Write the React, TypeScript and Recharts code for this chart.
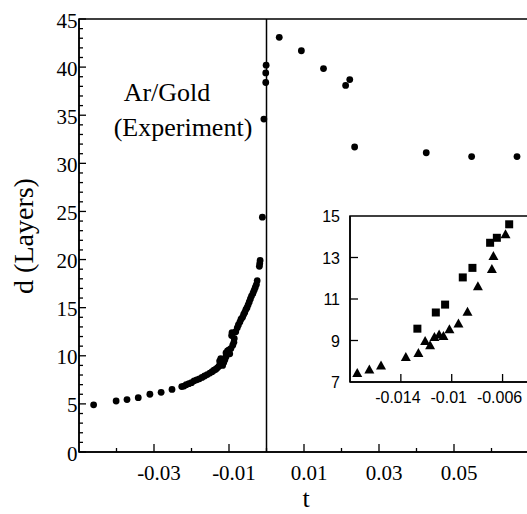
import React from 'react';
import { ScatterChart, Scatter, XAxis, YAxis, ReferenceLine, ReferenceArea } from 'recharts';

// Main plot: experimental Ar/Gold film thickness d (layers) vs reduced temperature t
const mainLeft: [number, number][] = [
  [-0.0461, 4.9], [-0.0401, 5.3], [-0.0372, 5.45], [-0.0342, 5.65], [-0.0311, 6.0],
  [-0.0281, 6.2], [-0.0252, 6.5], [-0.0226, 6.8], [-0.022, 6.85], [-0.0214, 7.0],
  [-0.0207, 7.1], [-0.02, 7.2], [-0.0193, 7.4], [-0.0186, 7.5], [-0.0179, 7.6],
  [-0.0172, 7.75], [-0.0165, 7.9], [-0.0158, 8.05], [-0.0151, 8.2], [-0.0145, 8.35],
  [-0.014, 8.5], [-0.0135, 8.6], [-0.0131, 8.75], [-0.0127, 8.9], [-0.0124, 9.1],
  [-0.0121, 9.3], [-0.0125, 9.45], [-0.0122, 9.7], [-0.0117, 9.0], [-0.0114, 9.3],
  [-0.0111, 9.6], [-0.0108, 9.9], [-0.0108, 10.3], [-0.0104, 10.5], [-0.01, 10.6],
  [-0.0095, 10.75], [-0.0098, 10.2], [-0.009, 11.1], [-0.0087, 11.4], [-0.0086, 11.8],
  [-0.0093, 12.1], [-0.0092, 12.4], [-0.0082, 12.5], [-0.0078, 12.9], [-0.0075, 13.2],
  [-0.0071, 13.5], [-0.0068, 13.8], [-0.0064, 14.0], [-0.0061, 14.3], [-0.0058, 14.5],
  [-0.0055, 14.8], [-0.0052, 15.0], [-0.0049, 15.3], [-0.0046, 15.6], [-0.0043, 15.9],
  [-0.004, 16.2], [-0.0036, 16.5], [-0.0033, 16.8], [-0.003, 17.1], [-0.0027, 17.4],
  [-0.0025, 17.8], [-0.0019, 19.3], [-0.0018, 19.6], [-0.0017, 19.9], [-0.0011, 24.4],
  [-0.0007, 34.6], [-0.0002, 38.4], [-0.0002, 39.4], [-0.0001, 40.2],
];
const mainRight: [number, number][] = [
  [0.0034, 43.1], [0.0093, 41.7], [0.0152, 39.85], [0.0211, 38.1], [0.0222, 38.7],
  [0.0235, 31.7], [0.0426, 31.1], [0.0547, 30.7], [0.0668, 30.7],
];

// Inset
const insetSquares: [number, number][] = [
  [-0.0127, 9.57], [-0.01125, 10.35], [-0.01052, 10.73], [-0.00913, 12.04], [-0.00837, 12.5],
  [-0.00698, 13.71], [-0.00645, 13.95], [-0.00548, 14.6],
];
const insetTriangles: [number, number][] = [
  [-0.01743, 7.43], [-0.01648, 7.6], [-0.01556, 7.8], [-0.01361, 8.2], [-0.01262, 8.4],
  [-0.01209, 8.98], [-0.0117, 8.77], [-0.01136, 9.17], [-0.01099, 9.29], [-0.01065, 9.22],
  [-0.01018, 9.54], [-0.00947, 9.82], [-0.00876, 10.38], [-0.00794, 11.62], [-0.00684, 12.44],
  [-0.00672, 13.07], [-0.00577, 14.12],
];

const xTicks = [-0.04, -0.03, -0.02, -0.01, 0, 0.01, 0.02, 0.03, 0.04, 0.05, 0.06];
const xTickLabels = ['-0.03', '-0.01', '0.01', '0.03', '0.05'];
const yTicks = [
  0, 1, 2, 3, 4, 5, 6, 7, 8, 9, 10, 11, 12, 13, 14, 15, 16, 17, 18, 19, 20, 21, 22,
  23, 24, 25, 26, 27, 28, 29, 30, 31, 32, 33, 34, 35, 36, 37, 38, 39, 40, 41, 42, 43, 44, 45,
];
const yTickLabels = ['0', '5', '10', '15', '20', '25', '30', '35', '40', '45'];
const insetXTicks = [-0.014, -0.01, -0.006];
const insetXTickLabels = ['-0.014', '-0.01', '-0.006'];
const insetYTicks = [7, 9, 11, 13, 15];
const insetYTickLabels = ['7', '9', '11', '13', '15'];

const SERIF = '"Liberation Serif", "Times New Roman", serif';
const SANS = '"Liberation Sans", Arial, sans-serif';

const toObj = (a: [number, number][]) => a.map(([t, d]) => ({ t, d }));
const findLabel = (labels: string[], v: number) =>
  labels.find((l) => Math.abs(Number(l) - v) < 1e-9);

const MainXTick = (props: any) => {
  const { x, y, payload } = props;
  const label = findLabel(xTickLabels, payload.value);
  return (
    <g>
      <line x1={x} y1={y} x2={x} y2={y - (label ? 8 : 4)} stroke="#000" strokeWidth={1.3} />
      {label && (
        <text x={x + 5} y={y + 28} textAnchor="middle" fontFamily={SERIF} fontSize={21} fill="#000">
          {label}
        </text>
      )}
    </g>
  );
};

const MainYTick = (props: any) => {
  const { x, y, payload } = props;
  const label = findLabel(yTickLabels, payload.value);
  return (
    <g>
      <line x1={x} y1={y} x2={x + (label ? 7 : 4)} y2={y} stroke="#000" strokeWidth={1.3} />
      {label && (
        <text x={x - 1.5} y={y + 8.5} textAnchor="end" fontFamily={SERIF} fontSize={21} fill="#000">
          {label}
        </text>
      )}
    </g>
  );
};

const InsetXTick = (props: any) => {
  const { x, y, payload } = props;
  const label = findLabel(insetXTickLabels, payload.value);
  return (
    <g>
      <line x1={x} y1={y} x2={x} y2={y - 8} stroke="#000" strokeWidth={1.3} />
      <text x={x - 3} y={y + 21} textAnchor="middle" fontFamily={SANS} fontSize={16} fill="#000">
        {label}
      </text>
    </g>
  );
};

const InsetYTick = (props: any) => {
  const { x, y, payload } = props;
  const label = findLabel(insetYTickLabels, payload.value);
  const v = payload.value;
  const showLine = v !== 7 && v !== 15;
  return (
    <g>
      {showLine && <line x1={x} y1={y} x2={x + 8} y2={y} stroke="#000" strokeWidth={1.3} />}
      <text x={x - 10} y={y + 6} textAnchor="end" fontFamily={SANS} fontSize={16} fill="#000">
        {label}
      </text>
    </g>
  );
};

const Dot = (props: any) => <circle cx={props.cx} cy={props.cy} r={3.4} fill="#000" />;
const Square = (props: any) => (
  <rect x={props.cx - 4} y={props.cy - 4} width={8} height={8} fill="#000" />
);
const Triangle = (props: any) => (
  <polygon
    points={`${props.cx - 5},${props.cy + 4} ${props.cx + 5},${props.cy + 4} ${props.cx},${props.cy - 5}`}
    fill="#000"
  />
);

export default function App() {
  return (
    <div
      style={{
        position: 'absolute',
        left: 0,
        top: 0,
        width: 527,
        height: 514,
        overflow: 'hidden',
        background: '#fff',
      }}
    >
      <div style={{ position: 'absolute', left: 0, top: 0 }}>
        <ScatterChart width={545} height={514} margin={{ top: 19, right: 16, left: 0, bottom: 0 }}>
          <XAxis
            type="number"
            dataKey="t"
            domain={[-0.05, 0.07]}
            ticks={xTicks}
            interval={0}
            height={62}
            tickSize={0}
            tickMargin={0}
            tickLine={false}
            tick={<MainXTick />}
            axisLine={{ stroke: '#000', strokeWidth: 1.5 }}
            allowDataOverflow
          />
          <YAxis
            type="number"
            dataKey="d"
            domain={[0, 45]}
            ticks={yTicks}
            interval={0}
            width={79}
            tickSize={0}
            tickMargin={0}
            tickLine={false}
            tick={<MainYTick />}
            axisLine={{ stroke: '#000', strokeWidth: 1.5 }}
            allowDataOverflow
          />
          <ReferenceArea x1={-0.05} x2={0.07} y1={0} y2={45} fill="none" stroke="#000" strokeWidth={1.5} />
          <ReferenceLine x={0} stroke="#000" strokeWidth={1.5} />
          <Scatter data={toObj(mainLeft)} shape={<Dot />} isAnimationActive={false} />
          <Scatter data={toObj(mainRight)} shape={<Dot />} isAnimationActive={false} />
          <text x={167} y={101} textAnchor="middle" fontFamily={SERIF} fontSize={26} fill="#000">
            Ar/Gold
          </text>
          <text x={183} y={136} textAnchor="middle" fontFamily={SERIF} fontSize={26} fill="#000">
            (Experiment)
          </text>
          <text
            x={33}
            y={236}
            transform="rotate(-90 33 236)"
            textAnchor="middle"
            fontFamily={SERIF}
            fontSize={28}
            fill="#000"
          >
            d (Layers)
          </text>
          <text x={306} y={507} textAnchor="middle" fontFamily={SERIF} fontSize={26} fill="#000">
            t
          </text>
        </ScatterChart>
      </div>
      <div style={{ position: 'absolute', left: 300, top: 200 }}>
        <ScatterChart width={240} height={220} margin={{ top: 16, right: 12, left: 0, bottom: 0 }}>
          <XAxis
            type="number"
            dataKey="t"
            domain={[-0.018, -0.004]}
            ticks={insetXTicks}
            interval={0}
            height={38}
            tickSize={0}
            tickMargin={0}
            tickLine={false}
            tick={<InsetXTick />}
            axisLine={{ stroke: '#000', strokeWidth: 1.5 }}
            allowDataOverflow
          />
          <YAxis
            type="number"
            dataKey="d"
            domain={[7, 15]}
            ticks={insetYTicks}
            interval={0}
            width={50}
            tickSize={0}
            tickMargin={0}
            tickLine={false}
            tick={<InsetYTick />}
            axisLine={{ stroke: '#000', strokeWidth: 1.5 }}
            allowDataOverflow
          />
          <ReferenceArea x1={-0.018} x2={-0.004} y1={7} y2={15} fill="#fff" stroke="#000" strokeWidth={1.5} />
          <Scatter data={toObj(insetSquares)} shape={<Square />} isAnimationActive={false} />
          <Scatter data={toObj(insetTriangles)} shape={<Triangle />} isAnimationActive={false} />
        </ScatterChart>
      </div>
    </div>
  );
}
